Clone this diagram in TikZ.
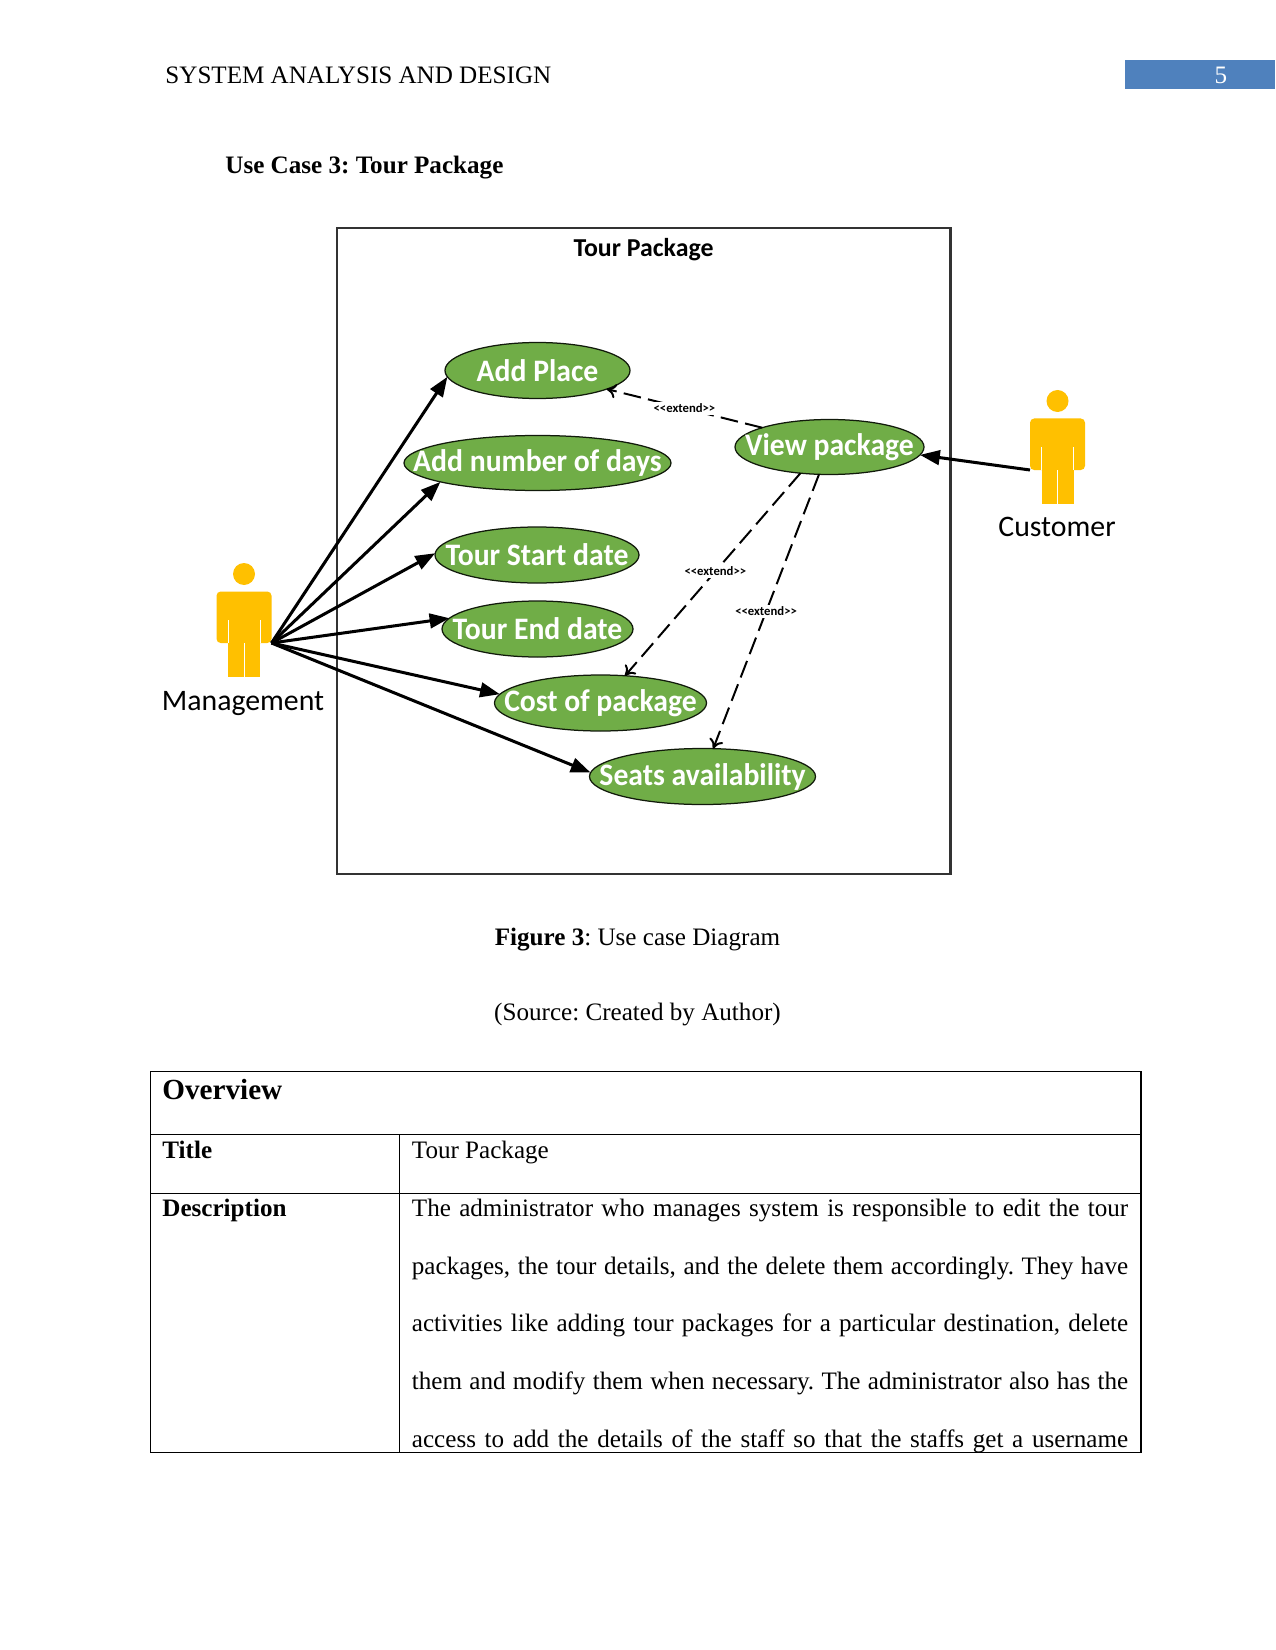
\documentclass[tikz,border=0pt]{standalone}
\usepackage{fontspec}
\usepackage{xcolor}
\setmainfont{Liberation Serif}
\newfontfamily\umlfont{Carlito}
\newfontfamily\casefont[FakeStretch=0.95]{Carlito}
\usetikzlibrary{shapes.geometric,arrows.meta}

\definecolor{casegreen}{HTML}{70AD47}
\definecolor{actoryellow}{HTML}{FFC000}
\definecolor{headerblue}{HTML}{4F81BD}

\frenchspacing

\tikzset{
	usecase/.style n args={2}{ellipse, draw=black!85!casegreen, fill=casegreen, text=white, line width=.6pt,
		inner xsep=-70pt, inner ysep=-12pt, outer sep=0pt,
		minimum width=#1*.48pt, minimum height=#2*.48pt, font=\casefont\bfseries\fontsize{15}{15}\selectfont},
	assoc/.style={-{Triangle[length=9.5pt,width=7pt]}, line width=1.45pt},
	extendline/.style={-{To[length=4.5pt,width=7pt]}, dash pattern=on 8.5pt off 3.5pt, line width=.95pt},
	extendlabel/.style={fill=white, inner sep=1pt, font=\umlfont\bfseries\fontsize{6.1}{7}\selectfont},
	actorlabel/.style={font=\umlfont\fontsize{14.3}{14}\selectfont},
	pagetext/.style={anchor=base west, inner sep=0pt, font=\fontsize{12.05}{12}\selectfont},
	cellrule/.style={line width=.5pt},
	actor/.pic={
		\fill [actoryellow] (0,-26) circle [radius=11];
		\fill [actoryellow, rounded corners=2pt] (-27.5,43) -- (-27.5,-8.5) -- (27.5,-8.5) -- (27.5,43) -- cycle;
		\fill [actoryellow] (-16,30) rectangle (16,77);
		\draw [white, line width=.4pt] (-16,20) -- (-16,43) (16,20) -- (16,43) (0,43) -- (0,77);
		\coordinate (-lefthand) at (27.5,43);
		\coordinate (-righthand) at (-27.5,43);
	}
}

\begin{document}
\begin{tikzpicture}[x=.48pt, y=-.48pt]
	\useasboundingbox (0,0) rectangle (1275,1650);
	\fill [white] (0,0) rectangle (1275,1650);

	% running head
	\node [pagetext] (head) at (165,84) {SYSTEM ANALYSIS AND DESIGN};
	\fill [headerblue] (1124.5,60.5) rectangle (1275,89.5);
	\node [pagetext, anchor=base, text=white] (pagenum) at (1221,84) {5};
	\node [pagetext, font=\bfseries\fontsize{12.05}{12}\selectfont] (title) at (225,174) {Use Case 3: Tour Package};

	% system boundary
	\draw [line width=1.05pt, draw=black!80] (337,228) rectangle (950.5,874);
	\node [font=\umlfont\bfseries\fontsize{12.4}{13}\selectfont] (system) at (643.5,249.5) {Tour Package};

	% use cases
	\node [usecase={185}{56}] (addplace) at (537.5,370.5) {Add Place};
	\node [usecase={267}{55}] (adddays) at (537.5,463) {Add number of days};
	\node [usecase={204}{56}] (startdate) at (537,555) {Tour Start date};
	\node [usecase={191}{56}] (enddate) at (537.5,629) {Tour End date};
	\node [usecase={212}{56}] (cost) at (600.5,703) {Cost of package};
	\node [usecase={226}{56}] (seats) at (702.5,776.5) {Seats availability};
	\node [usecase={189}{55}] (viewpkg) at (829.5,447) {View package};

	% actors
	\pic (management) at (244,600) {actor};
	\pic (customer) at (1057.5,427) {actor};
	\node [actorlabel] (managementlabel) at (243,703.5) {Management};
	\node [actorlabel] (customerlabel) at (1057,527) {Customer};

	% associations
	\draw [assoc] (management-lefthand) -- (addplace.184.4);
	\draw [assoc] (management-lefthand) -- (adddays.191);
	\draw [assoc] (management-lefthand) -- (startdate.179);
	\draw [assoc] (management-lefthand) -- (enddate.173.3);
	\draw [assoc] (management-lefthand) -- (cost.175.6);
	\draw [assoc] (management-lefthand) -- (seats.178);
	\draw [assoc] (customer-righthand) -- (viewpkg.-5);

	% extend relations
	\draw [extendline] (viewpkg.164.5) -- (addplace.345.6) node [extendlabel, pos=.5] (extendplace) {<<extend>>};
	\draw [extendline] (viewpkg.222) -- (cost.48.5) node [extendlabel, pos=.485] (extendcost) {<<extend>>};
	\draw [extendline] (viewpkg.249) -- (seats.69) node [extendlabel, pos=.5] (extendseats) {<<extend>>};

	% caption
	\node [font=\fontsize{12.05}{12}\selectfont] (figcaption) at (637.5,940) {\textbf{Figure 3}: Use case Diagram};
	\node [font=\fontsize{12.05}{12}\selectfont] (figsource) at (637.5,1014.5) {(Source: Created by Author)};

	% overview table
	\draw [cellrule] (150.5,1071.5) rectangle (1141,1452.5);
	\draw [cellrule, line width=.9pt] (1141,1071.5) -- (1141,1452.5);
	\draw [cellrule] (150.5,1134.5) -- (1141,1134.5);
	\draw [cellrule] (150.5,1193.5) -- (1141,1193.5);
	\draw [cellrule] (399.5,1134.5) -- (399.5,1452.5);
	\node [pagetext, font=\bfseries\fontsize{14}{14}\selectfont] (overview) at (162,1099) {Overview};
	\node [pagetext, font=\bfseries\fontsize{12.05}{12}\selectfont] (titlecell) at (162,1158) {Title};
	\node [pagetext] (titletext) at (411.5,1158) {Tour Package};
	\node [pagetext, font=\bfseries\fontsize{12.05}{12}\selectfont] (desccell) at (162,1216) {Description};
	\foreach \ypos/\linetext in {
		1216/{The administrator who manages system is responsible to edit the tour},
		1274/{packages, the tour details, and the delete them accordingly. They have},
		1331/{activities like adding tour packages for a particular destination, delete},
		1389/{them and modify them when necessary. The administrator also has the},
		1447/{access to add the details of the staff so that the staffs get a username}}
		\node [pagetext] (line\ypos) at (411.5,\ypos) {\makebox[343.8pt][s]{\linetext}};
\end{tikzpicture}
\end{document}
